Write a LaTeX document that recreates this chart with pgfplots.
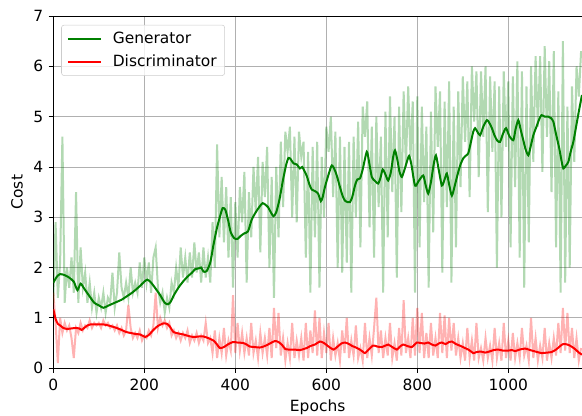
\documentclass[border=0pt]{standalone}
\usepackage{pgfplots}
\pgfplotsset{compat=1.18}
\usepackage{fontspec}
\setmainfont{DejaVu Sans}
\definecolor{mgreen}{HTML}{008000}
\definecolor{mred}{HTML}{FF0000}
\definecolor{mgrid}{HTML}{B0B0B0}
\begin{document}
\fontsize{11.6}{13.9}\selectfont
\begin{tikzpicture}
\useasboundingbox (-40pt,-35.8pt) rectangle (396.75pt,276.3pt);
\begin{axis}[
  at={(0,0)}, anchor=south west,
  scale only axis, width=396.75pt, height=264.3pt,
  xmin=0, xmax=1162, ymin=0, ymax=7,
  xtick={0,200,400,600,800,1000}, ytick={0,1,2,3,4,5,6,7},
  /pgf/number format/assume math mode=true,
  /pgf/number format/1000 sep={},
  tick align=outside, tick pos=left, major tick length=3.5pt,
  tick style={black, line width=0.6pt},
  xticklabel style={yshift=-0.5pt},
  axis y line*=left,
  axis line style={line width=0.6pt},
  grid=major, major grid style={mgrid, line width=0.6pt},
  xlabel={Epochs}, ylabel={Cost},
  xlabel style={at={(axis description cs:0.5,-0.110)}, anchor=center},
  ylabel style={at={(axis description cs:-0.0686,0.5)}, anchor=center},
  legend style={at={(axis description cs:0.015,0.975)}, anchor=north west,
    draw=black!20, fill=white, fill opacity=0.8, text opacity=1,
    rounded corners=2pt, inner xsep=4pt, inner ysep=3pt, row sep=3pt,
    font=\fontsize{11.6}{13.9}\selectfont},
  legend cell align=left,
  legend image code/.code={\draw[#1] (0pt,0pt) -- (25pt,0pt); \path (31pt,0pt);},
  clip=true,
]
\addplot[mgreen, opacity=0.3, line width=1.5pt, forget plot] coordinates {
(0,1.3)(5,2.9)(10,1.4)(15,2.1)(20,4.6)(25,1.3)(30,2.0)(35,1.6)(40,2.2)(45,1.5)
(50,3.5)(55,1.3)(60,2.4)(65,1.6)(70,1.9)(75,1.3)(80,1.7)(85,1.2)(90,1.5)(95,1.1)
(100,1.4)(105,1.2)(110,1.5)(115,1.1)(120,1.4)(125,1.3)(130,1.9)(135,1.2)(140,1.5)(145,2.3)
(150,1.6)(155,1.4)(160,1.7)(165,1.4)(170,2.0)(175,1.5)(180,1.7)(185,1.5)(190,2.1)(195,1.6)
(200,2.2)(205,1.7)(210,2.1)(215,1.5)(220,2.2)(225,2.4)(230,1.6)(235,1.3)(240,1.5)(245,1.1)
(250,1.4)(255,1.2)(260,1.7)(265,1.5)(270,2.0)(275,1.6)(280,2.4)(285,1.8)(290,2.2)(295,1.7)
(300,2.3)(305,1.8)(310,2.5)(315,1.9)(320,2.3)(325,1.7)(330,2.4)(335,1.8)(340,2.2)(345,1.7)
(350,2.9)(355,2.0)(360,4.45)(365,2.6)(370,3.8)(375,2.5)(380,3.6)(385,2.2)(390,3.4)(395,1.6)
(400,3.3)(405,2.2)(410,3.6)(415,2.9)(420,3.9)(425,1.7)(430,3.5)(435,2.6)(440,4.0)(445,3.1)
(450,4.2)(455,2.3)(460,4.1)(465,3.4)(470,4.4)(475,2.0)(480,3.8)(485,1.4)(490,4.0)(495,2.6)
(500,4.5)(505,3.2)(510,4.7)(515,4.3)(520,4.8)(525,3.0)(530,4.6)(535,2.9)(540,4.7)(545,4.2)
(550,4.5)(555,2.2)(560,4.3)(565,1.5)(570,4.4)(575,2.6)(580,4.5)(585,1.6)(590,4.2)(595,3.0)
(600,4.8)(605,4.3)(610,5.0)(615,3.4)(620,4.7)(625,2.0)(630,4.6)(635,1.9)(640,4.4)(645,2.1)
(650,4.5)(655,1.5)(660,4.6)(665,3.0)(670,4.9)(675,2.4)(680,5.2)(685,4.6)(690,5.3)(695,2.8)
(700,4.8)(705,2.2)(710,5.0)(715,3.2)(720,4.6)(725,1.5)(730,5.1)(735,2.6)(740,5.4)(745,3.5)
(750,5.0)(755,1.8)(760,5.2)(765,3.1)(770,5.5)(775,4.0)(780,5.6)(785,4.2)(790,5.3)(795,1.5)
(800,5.4)(805,2.4)(810,5.2)(815,3.3)(820,4.8)(825,1.6)(830,5.1)(835,2.7)(840,5.6)(845,4.4)
(850,5.5)(855,1.9)(860,5.3)(865,3.2)(870,5.7)(875,1.7)(880,5.2)(885,2.4)(890,5.5)(895,3.6)
(900,5.8)(905,4.5)(910,5.7)(915,3.4)(920,6.0)(925,4.9)(930,5.9)(935,3.8)(940,5.9)(945,4.6)
(950,6.0)(955,3.1)(960,5.8)(965,4.3)(970,5.7)(975,2.0)(980,5.6)(985,3.0)(990,5.9)(995,4.4)
(1000,5.7)(1005,2.4)(1010,5.8)(1015,3.6)(1020,6.1)(1025,2.2)(1030,5.9)(1035,1.6)(1040,5.6)(1045,2.5)
(1050,6.0)(1055,4.1)(1060,6.2)(1065,4.8)(1070,6.2)(1075,3.9)(1080,6.4)(1085,4.6)(1090,6.1)(1095,3.5)
(1100,6.3)(1105,2.4)(1110,5.5)(1115,1.5)(1120,6.5)(1125,1.7)(1130,5.2)(1135,2.0)(1140,5.6)(1145,4.1)
(1150,6.0)(1155,5.4)(1160,6.3)
};
\addplot[mred, opacity=0.3, line width=1.5pt, forget plot] coordinates {
(0,1.5)(5,0.9)(10,0.1)(15,1.0)(20,0.7)(25,0.9)(30,0.75)(35,0.85)(40,0.6)(45,0.2)
(50,0.8)(55,0.7)(60,0.9)(65,0.75)(70,0.85)(75,0.8)(80,0.95)(85,0.8)(90,0.9)(95,0.85)
(100,0.9)(105,0.8)(110,0.95)(115,0.85)(120,0.9)(125,0.8)(130,0.85)(135,0.75)(140,0.85)(145,0.7)
(150,0.8)(155,0.65)(160,0.75)(165,1.26)(170,0.8)(175,0.6)(180,0.7)(185,0.6)(190,0.75)(195,0.55)
(200,0.65)(205,0.6)(210,0.75)(215,0.65)(220,0.85)(225,1.5)(230,0.8)(235,1.0)(240,0.85)(245,0.95)
(250,0.8)(255,0.9)(260,0.65)(265,0.75)(270,0.6)(275,0.7)(280,0.55)(285,0.7)(290,0.6)(295,0.75)
(300,0.5)(305,0.65)(310,0.55)(315,0.7)(320,0.5)(325,0.65)(330,0.55)(335,0.9)(340,0.5)(345,0.6)
(350,0.3)(355,0.75)(360,0.2)(365,0.6)(370,0.3)(375,0.8)(380,0.25)(385,0.55)(390,0.35)(395,1.45)
(400,0.3)(405,0.9)(410,0.35)(415,0.7)(420,0.3)(425,0.6)(430,0.25)(435,0.9)(440,0.3)(445,0.55)
(450,0.2)(455,0.7)(460,0.3)(465,0.6)(470,0.25)(475,0.8)(480,0.2)(485,1.2)(490,0.4)(495,1.1)
(500,0.25)(505,0.6)(510,0.15)(515,0.5)(520,0.2)(525,0.9)(530,0.2)(535,0.55)(540,0.25)(545,0.6)
(550,0.15)(555,0.9)(560,0.2)(565,0.75)(570,0.3)(575,1.15)(580,0.25)(585,1.0)(590,0.2)(595,0.7)
(600,0.3)(605,0.9)(610,0.15)(615,0.6)(620,0.25)(625,0.5)(630,0.15)(635,0.75)(640,0.3)(645,1.0)
(650,0.2)(655,0.55)(660,0.25)(665,0.85)(670,0.2)(675,0.4)(680,0.15)(685,0.9)(690,0.2)(695,0.6)
(700,0.25)(705,0.8)(710,1.4)(715,0.3)(720,0.75)(725,0.2)(730,0.6)(735,0.25)(740,0.9)(745,0.2)
(750,0.5)(755,0.15)(760,0.8)(765,0.25)(770,1.35)(775,0.3)(780,0.6)(785,0.2)(790,1.0)(795,0.25)
(800,1.2)(805,0.3)(810,1.1)(815,0.2)(820,0.7)(825,0.2)(830,0.9)(835,0.25)(840,0.6)(845,0.2)
(850,1.1)(855,0.3)(860,1.05)(865,0.2)(870,1.0)(875,0.35)(880,0.9)(885,0.25)(890,0.6)(895,0.2)
(900,0.5)(905,0.15)(910,0.8)(915,0.2)(920,0.55)(925,0.15)(930,0.9)(935,0.2)(940,0.4)(945,0.15)
(950,0.6)(955,0.2)(960,0.45)(965,0.15)(970,0.8)(975,0.2)(980,0.5)(985,0.15)(990,0.9)(995,0.2)
(1000,0.55)(1005,0.15)(1010,0.7)(1015,0.2)(1020,0.5)(1025,0.2)(1030,0.8)(1035,0.25)(1040,0.45)(1045,0.15)
(1050,1.0)(1055,0.2)(1060,0.6)(1065,0.15)(1070,0.45)(1075,0.2)(1080,0.8)(1085,0.15)(1090,0.5)(1095,0.2)
(1100,0.6)(1105,0.25)(1110,0.9)(1115,0.3)(1120,1.2)(1125,0.35)(1130,1.1)(1135,0.3)(1140,0.8)(1145,0.2)
(1150,0.6)(1155,0.15)(1160,0.4)
};
\addplot[mgreen, line width=1.5pt, smooth, tension=0.4] coordinates {
(0,1.70)(8,1.82)(15,1.87)(25,1.85)(35,1.80)(45,1.72)(53,1.55)(60,1.68)(68,1.58)(78,1.45)
(90,1.30)(100,1.25)(110,1.20)(120,1.24)(130,1.28)(140,1.32)(150,1.36)(160,1.42)(170,1.48)(180,1.55)
(190,1.63)(200,1.72)(207,1.76)(215,1.70)(225,1.58)(235,1.45)(245,1.30)(252,1.27)(258,1.32)(265,1.45)
(275,1.60)(285,1.72)(295,1.82)(305,1.90)(312,1.97)(318,1.98)(325,2.00)(330,1.92)(337,1.93)(345,2.10)
(352,2.45)(360,2.80)(366,3.00)(372,3.18)(378,3.15)(384,2.95)(390,2.70)(398,2.58)(405,2.57)(412,2.63)
(420,2.68)(428,2.72)(436,2.95)(445,3.10)(454,3.22)(460,3.28)(466,3.25)(472,3.20)(478,3.10)(484,3.02)
(490,3.10)(497,3.35)(505,3.75)(512,4.05)(517,4.18)(522,4.15)(528,4.07)(535,4.05)(542,3.97)(547,4.00)
(552,3.92)(557,3.82)(563,3.65)(568,3.55)(575,3.52)(582,3.47)(588,3.32)(592,3.40)(597,3.60)(605,3.85)
(612,4.03)(618,3.95)(623,3.83)(630,3.60)(636,3.42)(641,3.33)(647,3.30)(652,3.30)(657,3.40)(663,3.63)
(668,3.75)(674,3.77)(680,3.95)(689,4.30)(694,4.10)(700,3.80)(707,3.72)(714,3.67)(719,3.78)(724,3.95)
(730,3.85)(736,3.73)(742,3.90)(747,4.20)(751,4.33)(756,4.15)(761,3.90)(766,3.80)(772,3.95)(777,4.10)
(782,4.22)(787,4.05)(795,3.63)(803,3.72)(813,3.83)(818,3.65)(824,3.47)(830,3.70)(836,4.05)(841,4.23)
(847,3.95)(854,3.63)(860,3.75)(865,3.87)(870,3.65)(876,3.43)(883,3.65)(890,3.90)(895,4.05)(901,4.17)
(906,4.22)(912,4.27)(918,4.50)(923,4.70)(927,4.77)(932,4.70)(938,4.63)(945,4.80)(953,4.93)(958,4.88)
(964,4.77)(970,4.62)(976,4.52)(982,4.50)(988,4.65)(995,4.77)(1002,4.62)(1011,4.53)(1016,4.75)(1022,4.93)
(1027,4.75)(1033,4.53)(1038,4.35)(1044,4.23)(1049,4.40)(1055,4.63)(1062,4.80)(1068,4.95)(1073,5.03)(1080,5.00)
(1088,5.00)(1094,4.97)(1099,4.90)(1105,4.65)(1112,4.37)(1117,4.12)(1121,3.97)(1126,4.02)(1132,4.10)(1137,4.30)
(1143,4.50)(1150,4.85)(1156,5.15)(1162,5.43)
};
\addlegendentry{Generator}
\addplot[mred, line width=1.5pt, smooth, tension=0.4] coordinates {
(0,1.17)(5,0.98)(10,0.88)(15,0.85)(22,0.80)(30,0.78)(40,0.79)(50,0.80)(57,0.79)(62,0.76)
(68,0.80)(75,0.85)(82,0.87)(95,0.87)(110,0.87)(125,0.84)(139,0.80)(150,0.76)(160,0.72)(170,0.70)
(181,0.68)(191,0.67)(197,0.64)(202,0.62)(210,0.66)(220,0.76)(230,0.84)(242,0.89)(250,0.88)(256,0.83)
(264,0.72)(275,0.69)(286,0.67)(297,0.64)(308,0.62)(320,0.63)(330,0.63)(340,0.60)(352,0.55)(360,0.47)
(366,0.40)(375,0.42)(385,0.48)(395,0.52)(405,0.51)(418,0.50)(425,0.47)(432,0.43)(443,0.42)(454,0.41)
(465,0.44)(476,0.49)(487,0.54)(495,0.52)(503,0.46)(510,0.38)(520,0.37)(530,0.37)(542,0.36)(550,0.38)
(557,0.40)(565,0.44)(575,0.47)(586,0.53)(595,0.50)(605,0.43)(616,0.37)(625,0.43)(633,0.49)(641,0.51)
(650,0.48)(657,0.44)(663,0.42)(672,0.38)(680,0.33)(685,0.30)(692,0.36)(703,0.45)(712,0.43)(722,0.42)
(730,0.45)(736,0.47)(745,0.42)(755,0.37)(762,0.43)(769,0.47)(778,0.44)(788,0.42)(794,0.47)(799,0.51)
(808,0.50)(816,0.49)(824,0.51)(832,0.47)(840,0.45)(847,0.49)(854,0.51)(862,0.48)(870,0.52)(876,0.53)
(885,0.48)(893,0.45)(898,0.43)(905,0.40)(914,0.36)(923,0.30)(930,0.32)(940,0.33)(949,0.31)(958,0.33)
(968,0.36)(978,0.37)(988,0.35)(1000,0.35)(1008,0.36)(1015,0.34)(1025,0.37)(1037,0.39)(1048,0.36)(1060,0.33)
(1073,0.30)(1085,0.31)(1095,0.32)(1105,0.37)(1114,0.44)(1121,0.48)(1130,0.47)(1139,0.43)(1148,0.37)(1155,0.31)
(1162,0.27)
};
\addlegendentry{Discriminator}
\end{axis}
\end{tikzpicture}
\end{document}
